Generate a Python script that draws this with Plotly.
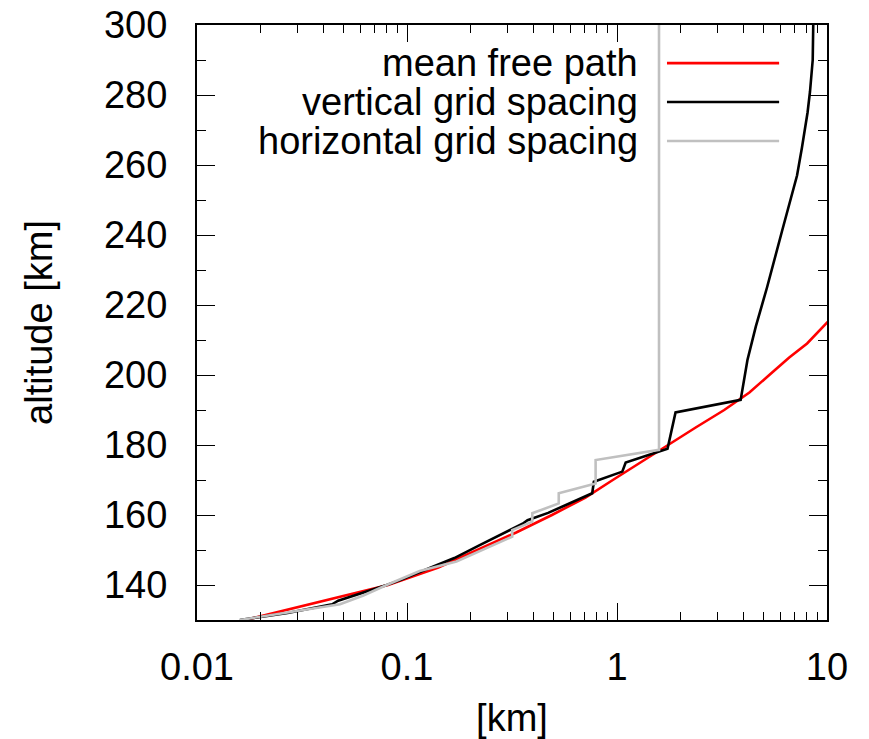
import plotly.graph_objects as go

# ---------------- data ----------------
red_alt = [130, 135, 140, 145, 150, 155, 160, 165, 170, 175, 180, 185, 190,
           195, 200, 205, 209, 215, 220]
red_mfp = [0.0170, 0.0372, 0.0813, 0.141, 0.214, 0.331, 0.490, 0.708, 0.955,
           1.29, 1.76, 2.37, 3.24, 4.27, 5.31, 6.61, 8.04, 10.0, 12.0]

black_alt = [130, 132, 134.5, 135.5, 140, 141.4, 145, 147.7, 151.4, 154.8,
             157.5, 158.5, 160.6, 166.2, 169.5, 172.4, 175.0, 178.9, 189.3,
             192.9, 204.3, 213.8, 225, 241, 257, 265, 270, 275, 281, 290, 300]
black_dz = [0.016, 0.027, 0.044, 0.047, 0.080, 0.093, 0.130, 0.168, 0.222,
            0.290, 0.355, 0.375, 0.470, 0.762, 0.776, 1.06, 1.10, 1.74, 1.90,
            3.88, 4.18, 4.58, 5.18, 6.1, 7.2, 7.6, 7.85, 8.08, 8.3, 8.55, 8.6]

gray_alt = [130, 132, 134.5, 137, 140, 144, 146.7, 153.8, 155.7, 158.1, 160.5,
            163.3, 166.2, 169.0, 175.7, 178.6, 300]
gray_dx = [0.016, 0.026, 0.048, 0.062, 0.080, 0.115, 0.172, 0.317, 0.317,
           0.395, 0.395, 0.528, 0.528, 0.791, 0.791, 1.585, 1.585]

series_names = ["mean free path", "vertical grid spacing", "horizontal grid spacing"]
series_colors = ["#ff0000", "#000000", "#c0c0c0"]

x_tickvals = [0.01, 0.1, 1, 10]
x_ticktext = ["0.01", "0.1", "1", "10"]
y_tickvals = list(range(140, 301, 20))
y_minor = list(range(130, 301, 10))
x_minor = [d * 10.0 ** k for k in (-2, -1, 0) for d in range(2, 10)]

FONT = "Liberation Sans, Arial, Helvetica, sans-serif"
FS = 38

fig = go.Figure()
series = [(red_mfp, red_alt), (black_dz, black_alt), (gray_dx, gray_alt)]
for (xs, ys), name, col in zip(series, series_names, series_colors):
    fig.add_trace(go.Scatter(x=xs, y=ys, mode="lines", name=name,
                             line=dict(color=col, width=2.6),
                             showlegend=False))

# gnuplot-style legend (text right-aligned, sample line to its right)
leg_y = [0.936, 0.8706, 0.805]
for name, col, yy in zip(series_names, series_colors, leg_y):
    fig.add_annotation(x=0.703, y=yy, xref="paper", yref="paper",
                       text=name, showarrow=False, xanchor="right",
                       yanchor="middle",
                       font=dict(family=FONT, size=FS, color="black"))
    fig.add_shape(type="line", xref="paper", yref="paper",
                  x0=0.746, x1=0.924, y0=yy, y1=yy,
                  line=dict(color=col, width=2.6))

axis_common = dict(
    showgrid=False, zeroline=False, showline=True, linewidth=2,
    linecolor="black", mirror="allticks", ticks="inside",
    tickcolor="black", tickwidth=1, automargin=False,
    tickfont=dict(family=FONT, size=FS, color="black"),
)

fig.update_xaxes(type="log", range=[-2, 1], tickvals=x_tickvals,
                 ticktext=x_ticktext, ticklen=17,
                 minor=dict(tickvals=x_minor, ticks="inside", ticklen=8,
                            tickwidth=1, tickcolor="black", showgrid=False),
                 title=dict(text="[km]", standoff=22,
                            font=dict(family=FONT, size=FS, color="black")),
                 ticklabelstandoff=12,
                 **axis_common)
fig.update_yaxes(range=[130, 300], tickvals=y_tickvals, ticklen=18,
                 minor=dict(tickvals=y_minor, ticks="inside", ticklen=9,
                            tickwidth=1, tickcolor="black", showgrid=False),
                 title=dict(text="altitude [km]", standoff=40,
                            font=dict(family=FONT, size=FS, color="black")),
                 ticklabelstandoff=20,
                 **axis_common)

fig.update_layout(width=869, height=739,
                  margin=dict(l=197, r=42, t=25, b=119),
                  plot_bgcolor="white", paper_bgcolor="white",
                  font=dict(family=FONT, size=FS, color="black"))

fig.write_html("out.html")
